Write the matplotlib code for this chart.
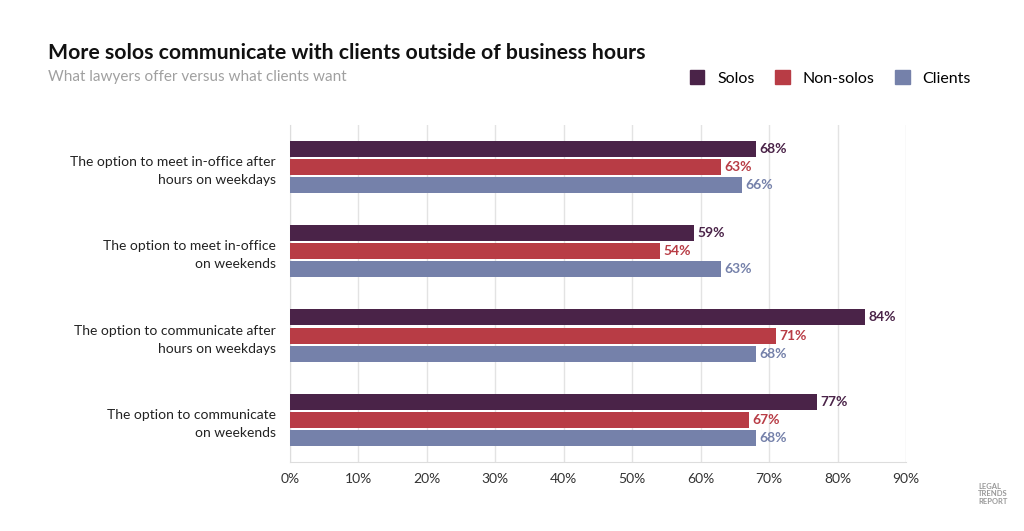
import matplotlib.pyplot as plt
import numpy as np

plt.rcParams['font.family'] = ['Lato', 'DejaVu Sans']

categories = [
    "The option to meet in-office after\nhours on weekdays",
    "The option to meet in-office\non weekends",
    "The option to communicate after\nhours on weekdays",
    "The option to communicate\non weekends",
]
series_names = ["Solos", "Non-solos", "Clients"]
solos = [68, 59, 84, 77]
non_solos = [63, 54, 71, 67]
clients = [66, 63, 68, 68]
colors = ["#4a2348", "#b83c45", "#7581aa"]
ticks = [0, 10, 20, 30, 40, 50, 60, 70, 80, 90]

fig = plt.figure(figsize=(10.24, 5.31), dpi=100)
ax = fig.add_axes([0.283, 0.130, 0.602, 0.635])

y = np.arange(len(categories))
bar_h = 0.19
step = 0.214
for i, (vals, col) in enumerate(zip([solos, non_solos, clients], colors)):
    pos = y + (i - 1) * step
    ax.barh(pos, vals, height=bar_h, color=col, zorder=3)
    for p, v in zip(pos, vals):
        ax.text(v + 0.5, p, f"{v}%", va='center', ha='left', color=col,
                fontsize=10, fontweight='bold')

ax.set_xlim(0, 90)
ax.set_ylim(3.5, -0.5)
ax.set_xticks(ticks)
ax.set_xticklabels([f"{t}%" for t in ticks], fontsize=10, color="#333333")
ax.set_yticks(y)
ax.set_yticklabels(categories, fontsize=10, color="#222222", linespacing=1.6)
ax.tick_params(axis='both', length=0)
ax.tick_params(axis='x', pad=8)
ax.tick_params(axis='y', pad=10)
ax.xaxis.grid(True, color="#e3e3e3", linewidth=1, zorder=0)
for s in ['top', 'right']:
    ax.spines[s].set_visible(False)
for s in ['left', 'bottom']:
    ax.spines[s].set_color("#dddddd")

fig.text(0.047, 0.9, "More solos communicate with clients outside of business hours",
         fontsize=15.3, fontweight='bold', color="#111111", va='center')
fig.text(0.047, 0.855, "What lawyers offer versus what clients want",
         fontsize=11, color="#a0a0a0", va='center')

handles = [plt.Rectangle((0, 0), 1, 1, color=c) for c in colors]
fig.legend(handles, series_names, loc='center right', bbox_to_anchor=(0.962, 0.853),
           ncol=3, frameon=False, fontsize=11.5, handlelength=0.9, handleheight=0.9,
           columnspacing=1.3, handletextpad=0.8)

fig.text(0.955, 0.07, "LEGAL\nTRENDS\nREPORT", fontsize=5.5, color="#999999",
         fontweight='bold', va='center', ha='left', linespacing=1.1)

fig.savefig("out.png", dpi=100)
